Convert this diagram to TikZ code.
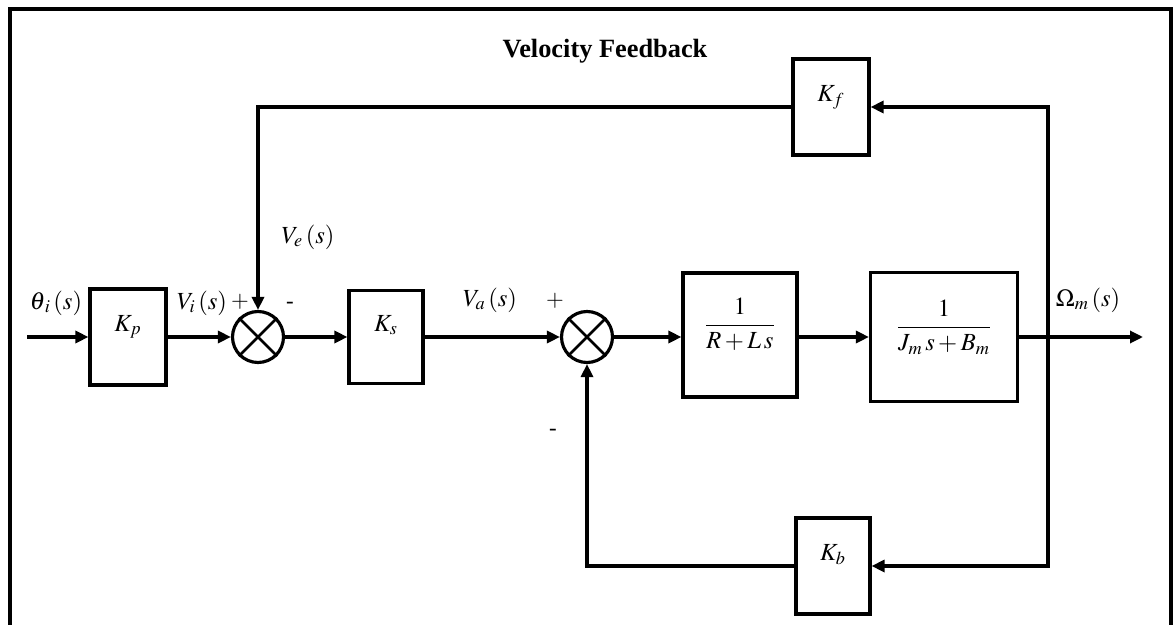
\documentclass[tikz,border=0pt]{standalone}
\usepackage{amsmath}
\usepackage{mathptmx}
\usepackage{fontspec}
\setmainfont{Liberation Serif}
\usetikzlibrary{positioning,arrows.meta}

\begin{document}
\begin{tikzpicture}[
    x=0.02cm,
    y=-0.02cm,
    font=\fontsize{14}{16}\selectfont,
    block/.style={
        draw,
        line width=1.8pt,
        minimum width=1.52cm,
        minimum height=1.92cm,
        text depth=0.55cm,
        inner sep=0pt
    },
    bigblock/.style={block, minimum width=2.28cm, minimum height=2.48cm, text depth=0.8cm},
    sumjn/.style={draw, circle, line width=1.8pt, minimum size=1.02cm, inner sep=0pt},
    arr/.style={-{Triangle[length=0.26cm, width=0.24cm]}, line width=1.8pt},
    sig/.style={inner sep=0pt},
    sgn/.style={inner sep=0pt, font=\fontsize{13}{15}\selectfont}
]

% ramka
\useasboundingbox (0,0) rectangle (1173,625);
\draw[line width=2.2pt] (10,625) -- (10,9) -- (1171,9) -- (1171,625);

\node[font=\fontsize{15}{17}\selectfont\bfseries] (title) at (605,51) {Velocity Feedback};

% tor glowny
\node[block] (kp) at (128,337) {$K_p$};
\node[sumjn] (sum1) at (258,337) {};
\node[block, minimum width=1.48cm, minimum height=1.86cm] (ks) at (386,337) {$K_s$};
\node[sumjn] (sum2) at (587,337) {};
\node[bigblock] (g1) at (740,335) {$\dfrac{1}{R+L\,s}$};
\node[bigblock, minimum width=2.94cm, minimum height=2.58cm] (g2) at (944,337) {$\dfrac{1}{J_m\,s+B_m}$};

\coordinate (in) at (27,337);
\coordinate (br) at (1048,337);
\coordinate (out) at (1143,337);

\draw[line width=1.6pt] (sum1.45) -- (sum1.225) (sum1.135) -- (sum1.315);
\draw[line width=1.6pt] (sum2.45) -- (sum2.225) (sum2.135) -- (sum2.315);

\draw[arr] (in) -- (kp);
\draw[arr] (kp) -- (sum1);
\draw[arr] (sum1) -- (ks);
\draw[arr] (ks) -- (sum2);
\draw[arr] (sum2) -- (g1.west |- sum2);
\draw[arr] (g1.east |- sum2) -- (g2.west |- sum2);
\draw[arr] (g2.east |- sum2) -- (out);

% sprzezenia zwrotne
\node[block] (kf) at (831,107) {$K_f$};
\node[block, minimum width=1.48cm] (kb) at (833,566) {$K_b$};

\draw[arr] (br) |- (kf);
\draw[arr] (kf) -| (sum1);
\draw[arr] (br) |- (kb);
\draw[arr] (kb) -| (sum2);

% sygnaly
\node[sig] (thi) at (56,303) {$\theta_{\mkern2mu i}\,(s)$};
\node[sig] (vi) at (202,303) {$V_i\,(s)$};
\node[sgn] (p1) at (240,302) {$+$};
\node[sgn] (m1) at (290,305) {-};
\node[sig] (ve) at (308,237) {$V_e\,(s)$};
\node[sig] (va) at (490,300) {$V_a\,(s)$};
\node[sgn] (p2) at (555,301) {$+$};
\node[sgn] (m2) at (553,432) {-};
\node[sig] (om) at (1088,300) {$\Omega_m\,(s)$};

\end{tikzpicture}
\end{document}
